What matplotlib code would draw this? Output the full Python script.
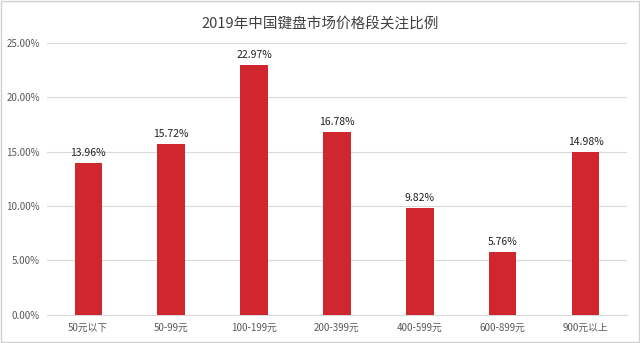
import numpy as np
import matplotlib.pyplot as plt
from matplotlib.ticker import MultipleLocator, FuncFormatter
from matplotlib.patches import Rectangle

plt.rcParams['font.family'] = ['Noto Sans CJK SC', 'DejaVu Sans']

categories = ['50元以下', '50-99元', '100-199元', '200-399元', '400-599元', '600-899元', '900元以上']
shares = [13.96, 15.72, 22.97, 16.78, 9.82, 5.76, 14.98]

fig = plt.figure(figsize=(6.4, 3.43), dpi=100)
ax = fig.add_axes([0.073, 0.082, 0.907, 0.793])

x = np.arange(len(categories))
ax.bar(x, shares, width=0.33, color='#D0262D', zorder=3)
for xi, v in zip(x, shares):
    ax.text(xi, v + 0.45, f'{v:.2f}%', ha='center', va='bottom', fontsize=7.5, color='#222222')

ax.set_xlim(-0.5, len(categories) - 0.5)
ax.set_ylim(0, 25)
ax.yaxis.set_major_locator(MultipleLocator(5))
ax.yaxis.set_major_formatter(FuncFormatter(lambda v, p: f'{v:.2f}%'))
ax.set_xticks(x)
ax.set_xticklabels(categories)
ax.tick_params(axis='both', length=0, labelsize=7, colors='#595959')
ax.tick_params(axis='x', pad=6)
ax.tick_params(axis='y', pad=5)
ax.grid(axis='y', color='#D9D9D9', linewidth=0.8, zorder=0)
for s in ['top', 'right', 'left']:
    ax.spines[s].set_visible(False)
ax.spines['bottom'].set_color('#D9D9D9')

fig.text(0.5, 0.93, '2019年中国键盘市场价格段关注比例', ha='center', va='center', fontsize=10.5, color='#404040')
fig.patches.append(Rectangle((0.002, 0.003), 0.996, 0.994, transform=fig.transFigure,
                             fill=False, edgecolor='#D0D0D0', linewidth=1))

plt.savefig('out.png')
